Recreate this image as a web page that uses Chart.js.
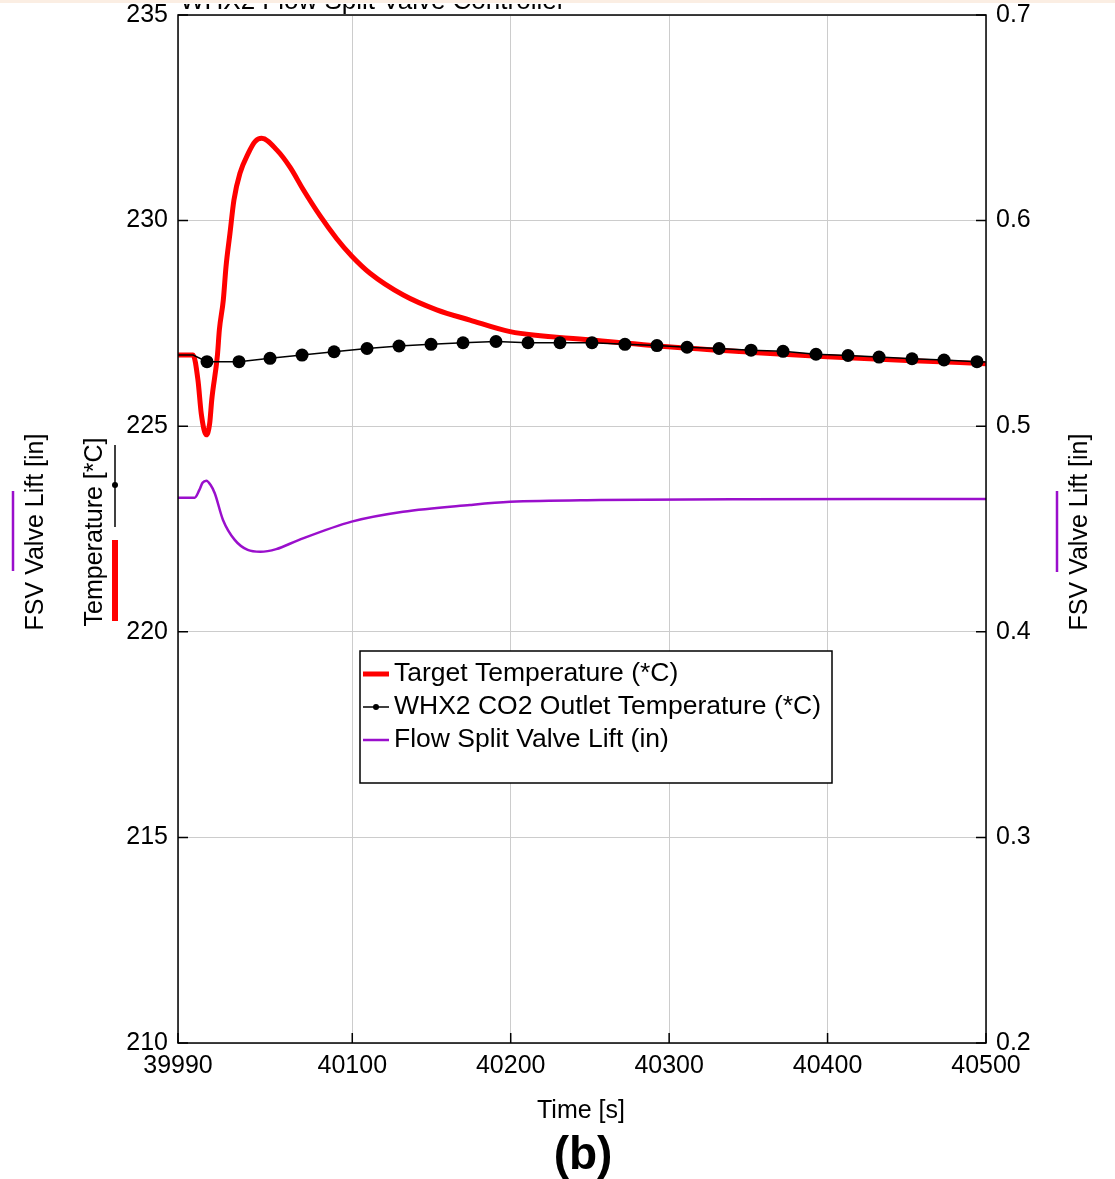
<!DOCTYPE html>
<html>
<head>
<meta charset="utf-8">
<script src="https://cdn.jsdelivr.net/npm/chart.js@4.4.1/dist/chart.umd.min.js"></script>
<style>
  html, body { margin: 0; padding: 0; background: #ffffff; }
  #wrap { width: 1115px; height: 1179px; position: relative; }
</style>
</head>
<body>
<div id="wrap"><canvas id="grafico" width="1115" height="1179"></canvas></div>
<script>
// valores (tempo em s)
var redTime = [39990, 39999.5, 40002.6, 40004.7, 40007.9, 40010, 40011.3, 40014.9, 40016.1, 40018.6, 40020.3, 40022.8, 40025.3, 40029.1, 40034.4, 40038.6, 40042.8, 40052.3, 40060.7, 40069.1, 40079.6, 40090.2, 40099.6, 40111.2, 40132.2, 40153.3, 40174.3, 40199.6, 40250, 40299.3, 40350, 40399.7, 40450, 40500];
var redTemp = [226.73, 226.73, 226.12, 225.3, 224.79, 225.07, 225.64, 226.73, 227.34, 228.07, 228.88, 229.69, 230.5, 231.15, 231.64, 231.92, 232.0, 231.72, 231.3, 230.75, 230.12, 229.56, 229.14, 228.72, 228.19, 227.83, 227.58, 227.3, 227.1, 226.93, 226.8, 226.69, 226.6, 226.52];

var blackTime = [39990, 39999.5, 40008.3, 40028.5, 40048.1, 40068.3, 40088.5, 40109.3, 40129.5, 40149.7, 40169.9, 40190.7, 40210.9, 40231.1, 40251.3, 40272.1, 40292.3, 40311.3, 40331.5, 40351.7, 40371.9, 40392.7, 40412.9, 40432.5, 40453.3, 40473.5, 40494.3, 40500];
var blackTemp = [226.73, 226.73, 226.57, 226.57, 226.65, 226.73, 226.81, 226.89, 226.95, 226.99, 227.03, 227.06, 227.03, 227.03, 227.03, 226.99, 226.96, 226.92, 226.89, 226.85, 226.82, 226.75, 226.72, 226.68, 226.64, 226.61, 226.57, 226.56];
var blackMarker = [0, 0, 1, 1, 1, 1, 1, 1, 1, 1, 1, 1, 1, 1, 1, 1, 1, 1, 1, 1, 1, 1, 1, 1, 1, 1, 1, 0];

var purpleTime = [39990, 40000.5, 40003.5, 40005.5, 40007.9, 40010.5, 40013.2, 40018.4, 40025.8, 40034, 40042, 40052, 40065.7, 40099.6, 40132, 40174.3, 40199.6, 40256.4, 40350, 40500];
var purpleLift = [0.4652, 0.4652, 0.469, 0.4725, 0.4735, 0.4715, 0.4674, 0.4544, 0.4447, 0.4398, 0.4389, 0.4402, 0.4445, 0.4536, 0.4584, 0.4617, 0.4632, 0.4641, 0.4645, 0.4646];

var xTicks = [39990, 40100, 40200, 40300, 40400, 40500];
var tempTicks = [210, 215, 220, 225, 230, 235];
var liftTicks = [0.2, 0.3, 0.4, 0.5, 0.6, 0.7];

var legendNames = ["Target Temperature (*C)", "WHX2 CO2 Outlet Temperature (*C)", "Flow Split Valve Lift (in)"];
var chartTitle = "WHX2 Flow Split Valve Controller";

var FONTE = "'Liberation Sans', Arial, sans-serif";
var VERMELHO = "#ff0000";
var ROXO = "#9a0fcc";

function montarPontos(xs, ys) {
    var pts = [];
    for (var i = 0; i < xs.length; i++) {
        pts.push({ x: xs[i], y: ys[i] });
    }
    return pts;
}

function fixarTicks(lista) {
    return function (scale) {
        scale.ticks = lista.map(function (v) { return { value: v }; });
    };
}

var extras = {
    id: "extras",
    beforeDraw: function (chart) {
        var ctx = chart.ctx;
        ctx.save();
        ctx.fillStyle = "#ffffff";
        ctx.fillRect(0, 0, chart.width, chart.height);
        ctx.restore();
    },
    afterDraw: function (chart) {
        var ctx = chart.ctx;
        var a = chart.chartArea;
        var sx = chart.scales.x;
        var sy = chart.scales.y;
        var sy2 = chart.scales.y2;
        ctx.save();

        // caixa do grafico
        ctx.strokeStyle = "#000";
        ctx.lineWidth = 1.5;
        ctx.strokeRect(a.left, a.top, a.right - a.left, a.bottom - a.top);

        // marcas para dentro
        ctx.beginPath();
        tempTicks.forEach(function (v) {
            var p = sy.getPixelForValue(v);
            ctx.moveTo(a.left, p); ctx.lineTo(a.left + 10, p);
        });
        liftTicks.forEach(function (v) {
            var p = sy2.getPixelForValue(v);
            ctx.moveTo(a.right, p); ctx.lineTo(a.right - 10, p);
        });
        xTicks.forEach(function (v) {
            var p = sx.getPixelForValue(v);
            ctx.moveTo(p, a.bottom); ctx.lineTo(p, a.bottom - 10);
        });
        ctx.stroke();

        // titulo cortado no topo
        ctx.fillStyle = "#000";
        ctx.font = "26px " + FONTE;
        ctx.textAlign = "left";
        ctx.textBaseline = "alphabetic";
        ctx.fillText(chartTitle, 180, 9);
        ctx.fillStyle = "#ffffff";
        ctx.fillRect(0, 0, chart.width, 4);
        ctx.fillStyle = "#fbeee3";
        ctx.fillRect(0, 0, chart.width, 3);

        // titulos dos eixos
        ctx.fillStyle = "#000";
        ctx.font = "25px " + FONTE;
        ctx.textAlign = "center";
        ctx.textBaseline = "middle";
        ctx.fillText("Time [s]", 581, 1111);
        ctx.font = "bold 46px " + FONTE;
        ctx.fillText("(b)", 583, 1156);

        ctx.font = "25px " + FONTE;
        var rot = [[36, "FSV Valve Lift [in]"], [95, "Temperature [*C]"], [1080, "FSV Valve Lift [in]"]];
        rot.forEach(function (r) {
            ctx.save();
            ctx.translate(r[0], 532);
            ctx.rotate(-Math.PI / 2);
            ctx.fillText(r[1], 0, 0);
            ctx.restore();
        });

        // amostras ao lado dos titulos
        ctx.lineCap = "butt";
        ctx.strokeStyle = ROXO;
        ctx.lineWidth = 2.5;
        ctx.beginPath();
        ctx.moveTo(13, 491); ctx.lineTo(13, 571);
        ctx.moveTo(1057, 491); ctx.lineTo(1057, 572);
        ctx.stroke();
        ctx.strokeStyle = "#000";
        ctx.lineWidth = 1.5;
        ctx.beginPath();
        ctx.moveTo(115, 445); ctx.lineTo(115, 527);
        ctx.stroke();
        ctx.fillStyle = "#000";
        ctx.beginPath();
        ctx.arc(115, 485, 3, 0, Math.PI * 2);
        ctx.fill();
        ctx.fillStyle = VERMELHO;
        ctx.fillRect(112, 540, 6, 81);

        // legenda
        var lx = 360, ly = 651, lw = 472, lh = 132;
        ctx.fillStyle = "#ffffff";
        ctx.fillRect(lx, ly, lw, lh);
        ctx.strokeStyle = "#000";
        ctx.lineWidth = 1.5;
        ctx.strokeRect(lx, ly, lw, lh);
        var rowY = [674, 707, 740];
        ctx.font = "26.5px " + FONTE;
        ctx.textAlign = "left";
        ctx.textBaseline = "middle";
        for (var i = 0; i < legendNames.length; i++) {
            var yy = rowY[i];
            if (i == 0) {
                ctx.strokeStyle = VERMELHO; ctx.lineWidth = 5;
            } else if (i == 1) {
                ctx.strokeStyle = "#000"; ctx.lineWidth = 1.5;
            } else {
                ctx.strokeStyle = ROXO; ctx.lineWidth = 2.5;
            }
            ctx.beginPath();
            ctx.moveTo(363, yy); ctx.lineTo(389, yy);
            ctx.stroke();
            if (i == 1) {
                ctx.fillStyle = "#000";
                ctx.beginPath();
                ctx.arc(376, yy, 3, 0, Math.PI * 2);
                ctx.fill();
            }
            ctx.fillStyle = "#000";
            ctx.fillText(legendNames[i], 394, yy);
        }
        ctx.restore();
    }
};

Chart.defaults.font.family = FONTE;
Chart.defaults.color = "#000";

function ajustarEixoY(largura) {
    return function (s) {
        s.width = largura;
        s.paddingTop = 0;
        s.paddingBottom = 0;
    };
}

new Chart(document.getElementById("grafico").getContext("2d"), {
    type: "line",
    data: {
        datasets: [{
            label: legendNames[1],
            data: montarPontos(blackTime, blackTemp),
            yAxisID: "y",
            borderColor: "#000",
            backgroundColor: "#000",
            borderWidth: 1.5,
            pointRadius: function (c) { return blackMarker[c.dataIndex] ? 6.5 : 0; },
            pointBorderWidth: 0,
            tension: 0,
            order: 1
        }, {
            label: legendNames[0],
            data: montarPontos(redTime, redTemp),
            yAxisID: "y",
            borderColor: VERMELHO,
            borderWidth: 5,
            pointRadius: 0,
            cubicInterpolationMode: "monotone",
            order: 2
        }, {
            label: legendNames[2],
            data: montarPontos(purpleTime, purpleLift),
            yAxisID: "y2",
            borderColor: ROXO,
            borderWidth: 2.5,
            pointRadius: 0,
            cubicInterpolationMode: "monotone",
            order: 3
        }]
    },
    options: {
        responsive: false,
        animation: false,
        devicePixelRatio: 1,
        layout: { padding: { top: 15, left: 0, right: 0, bottom: 0 } },
        plugins: {
            legend: { display: false },
            tooltip: { enabled: false }
        },
        scales: {
            x: {
                type: "linear",
                min: 39990,
                max: 40500,
                afterBuildTicks: fixarTicks(xTicks),
                afterFit: function (s) { s.height = 136; },
                ticks: { font: { size: 25 }, padding: 8, maxRotation: 0, callback: function (v) { return String(v); } },
                grid: { color: "#cccccc", lineWidth: 1, drawTicks: false },
                border: { display: false }
            },
            y: {
                position: "left",
                min: 210,
                max: 235,
                afterBuildTicks: fixarTicks(tempTicks),
                afterFit: ajustarEixoY(178),
                ticks: { font: { size: 25 }, padding: 10 },
                grid: { color: "#cccccc", lineWidth: 1, drawTicks: false },
                border: { display: false }
            },
            y2: {
                position: "right",
                min: 0.2,
                max: 0.7,
                afterBuildTicks: fixarTicks(liftTicks),
                afterFit: ajustarEixoY(129),
                ticks: { font: { size: 25 }, padding: 10, callback: function (v) { return v.toFixed(1); } },
                grid: { display: false, drawTicks: false },
                border: { display: false }
            }
        }
    },
    plugins: [extras]
});
</script>
</body>
</html>
